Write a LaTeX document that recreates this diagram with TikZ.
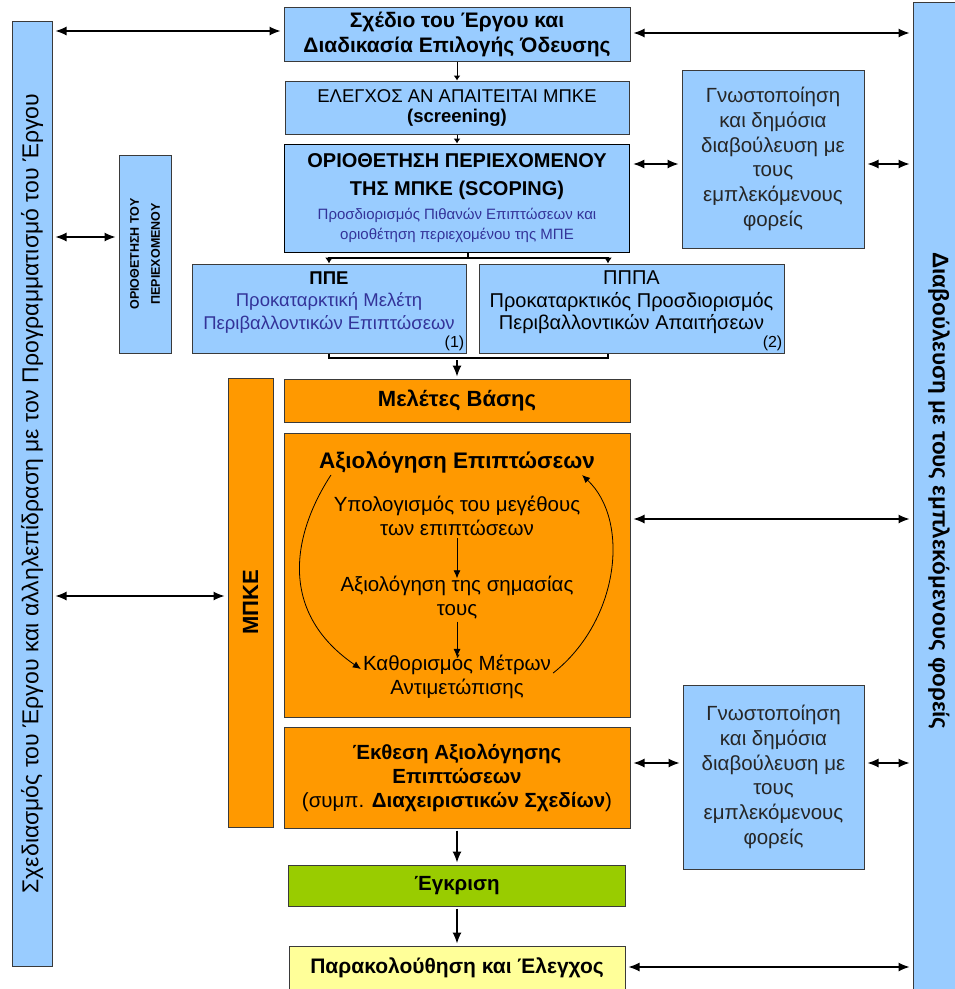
\documentclass[tikz,border=0pt]{standalone}
\usepackage{fontspec}
\setmainfont{Liberation Sans}
\usetikzlibrary{arrows.meta,positioning}

\definecolor{skyfill}{HTML}{99CCFF}
\definecolor{orangefill}{HTML}{FF9900}
\definecolor{greenfill}{HTML}{99CC00}
\definecolor{yellowfill}{HTML}{FFFF99}
\definecolor{navytext}{HTML}{333399}
\definecolor{edgegray}{HTML}{3A3A3A}

\begin{document}
\begin{tikzpicture}[x=1pt, y=-1pt, >={Latex[length=11pt,width=9pt]}]
    \tikzset{box/.style= {draw=edgegray, line width=1pt
    , inner sep=0pt
    , align=center
      },
    skybox/.style={box, fill=skyfill},
    orangebox/.style={box, fill=orangefill},
    link/.style={draw, line width=1.2pt, <->, shorten <=3pt, shorten >=3pt},
    flow/.style={draw, line width=1.2pt, ->, shorten <=2pt, shorten >=2pt},
    inner/.style={draw, line width=0.8pt, -{Latex[length=8pt,width=7pt]}}
    }
\useasboundingbox (0,0) rectangle (955,989);

% side bars
\node [skybox, minimum width=40pt, minimum height=945pt] (design) at (32,493.5) {};
\node [rotate=90, font=\fontsize{23}{26}\selectfont] (designtext) at (design) {Σχεδιασμός του Έργου και αλληλεπίδραση με τον Προγραμματισμό του Έργου};
\node [skybox, minimum width=46pt, minimum height=994pt] (consult) at (936,499) {};
\node [rotate=-90, font=\fontsize{22.5}{26}\selectfont\bfseries] (consulttext) at (939,491) {Διαβούλευση με τους εμπλεκόμενους φορείς};

% main column
\node [skybox, minimum width=346pt, minimum height=54pt, font=\fontsize{21}{25}\selectfont\bfseries] (plan) at (457,34) {Σχέδιο του Έργου και\\Διαδικασία Επιλογής Όδευσης};
\node [skybox, below=19pt of plan, minimum width=344pt, minimum height=53pt, font=\fontsize{18.5}{20}\selectfont] (screen) {ΕΛΕΓΧΟΣ ΑΝ ΑΠΑΙΤΕΙΤΑΙ ΜΠΚΕ\\\textbf{(screening)}};
\node [skybox, below=9pt of screen, minimum width=345pt, minimum height=108pt, line width=1.6pt, draw=black, font=\fontsize{20}{28}\selectfont] (scoping) {\textbf{ΟΡΙΟΘΕΤΗΣΗ ΠΕΡΙΕΧΟΜΕΝΟΥ}\\\textbf{ΤΗΣ ΜΠΚΕ (SCOPING)}\\[-4pt]\textcolor{navytext}{\fontsize{15}{20}\selectfont Προσδιορισμός Πιθανών Επιπτώσεων και}\\[-8pt]\textcolor{navytext}{\fontsize{15}{20}\selectfont οριοθέτηση περιεχομένου της ΜΠΕ}};

\node [skybox, minimum width=274pt, minimum height=89pt] (ppe) at (329,308.5) {};
\node [align=center, inner sep=0pt, font=\fontsize{18.5}{22.5}\selectfont] (ppetext) at ([yshift=6pt]ppe.center) {\textbf{ΠΠΕ}\\\textcolor{navytext}{Προκαταρκτική Μελέτη}\\\textcolor{navytext}{Περιβαλλοντικών Επιπτώσεων}};
\node [anchor=south east, inner sep=2pt, font=\fontsize{16}{18}\selectfont] (ppenote) at (ppe.south east) {(1)};
\node [skybox, right=12pt of ppe, minimum width=305pt, minimum height=89pt] (pppa) {};
\node [align=center, inner sep=0pt, font=\fontsize{20}{22.5}\selectfont] (pppatext) at ([yshift=6pt]pppa.center) {ΠΠΠΑ\\Προκαταρκτικός Προσδιορισμός\\Περιβαλλοντικών Απαιτήσεων};
\node [anchor=south east, inner sep=2pt, font=\fontsize{16}{18}\selectfont] (pppanote) at (pppa.south east) {(2)};

\node [orangebox, minimum width=346pt, minimum height=43pt, font=\fontsize{22}{26}\selectfont\bfseries] (basis) at (457,400.5) {Μελέτες Βάσης};
\node [orangebox, below=10pt of basis, minimum width=346pt, minimum height=284pt] (assess) {};
\node [orangebox, below=9pt of assess, minimum width=346pt, minimum height=101pt, font=\fontsize{20.5}{24}\selectfont] (report) {\textbf{Έκθεση Αξιολόγησης}\\\textbf{Επιπτώσεων}\\(συμπ. \textbf{Διαχειριστικών Σχεδίων})};
\node [box, fill=greenfill, below=36pt of report, minimum width=337pt, minimum height=41pt, font=\fontsize{20.5}{24}\selectfont\bfseries] (approve) {Έγκριση};
\node [box, fill=yellowfill, below=39pt of approve, minimum width=336pt, minimum height=44pt, font=\fontsize{21}{24}\selectfont\bfseries] (monitor) {Παρακολούθηση και Έλεγχος};

% inside the assessment box
\node [font=\fontsize{22.5}{26}\selectfont\bfseries, inner sep=2pt] (aim) at (457,462) {Αξιολόγηση Επιπτώσεων};
\node [font=\fontsize{20.5}{24}\selectfont, align=center, inner sep=2pt] (size) at (457,516) {Υπολογισμός του μεγέθους\\των επιπτώσεων};
\node [font=\fontsize{20.5}{24}\selectfont, align=center, inner sep=2pt] (weigh) at (457,598) {Αξιολόγηση της σημασίας\\τους};
\node [font=\fontsize{20.5}{24}\selectfont, align=center, inner sep=2pt] (measures) at (457,677) {Καθορισμός Μέτρων\\Αντιμετώπισης};

% side boxes
\node [skybox, minimum width=182pt, minimum height=178pt, font=\fontsize{20.5}{24.7}\selectfont, text=black!85] (notifA) at (773,159) {Γνωστοποίηση\\και δημόσια\\διαβούλευση με\\τους\\εμπλεκόμενους\\φορείς};
\node [skybox, minimum width=181pt, minimum height=184pt, font=\fontsize{20.5}{24.7}\selectfont, text=black!85] (notifB) at (773.5,777) {Γνωστοποίηση\\και δημόσια\\διαβούλευση με\\τους\\εμπλεκόμενους\\φορείς};
\node [skybox, minimum width=52pt, minimum height=198pt] (limits) at (145,254) {};
\node [rotate=90, align=center, font=\fontsize{12.5}{21}\selectfont\bfseries] (limitstext) at (limits) {ΟΡΙΟΘΕΤΗΣΗ ΤΟΥ\\ΠΕΡΙΕΧΟΜΕΝΟΥ};
\node [orangebox, minimum width=45pt, minimum height=449pt] (mpke) at (250.5,602.5) {};
\node [rotate=90, font=\fontsize{22}{26}\selectfont\bfseries] (mpketext) at (mpke) {ΜΠΚΕ};

% connectors
\coordinate (fork) at (468,258);
\coordinate (join) at (457,358);

 \path[draw, line width=1pt, -{Latex[length=5pt,width=7pt]}]
  (plan.south) -- (plan.south |- screen.north);
 \path[draw, line width=1pt, -{Latex[length=5pt,width=7pt]}]
  (screen.south) -- (screen.south |- scoping.north);
 \path[draw, line width=1.2pt]
  (scoping.south -| fork) -- (fork);
 \path[draw, line width=1.2pt, -{Latex[length=6pt,width=8pt]}]
  (fork) -| (ppe.north);
 \path[draw, line width=1.2pt, -{Latex[length=6pt,width=8pt]}]
  (fork) -| (pppa.north -| 608,0);
 \path[draw, line width=1.2pt]
  (ppe.south) |- (join) -| (pppa.south -| 608,0);
 \path[flow] (join) -- (basis.north);
 \path[flow] (report.south) -- (report.south |- approve.north);
 \path[flow] (approve.south) -- (approve.south |- monitor.north);

 \path[inner] (size.south) -- ([yshift=-4pt]weigh.north);
 \path[inner] (weigh.south) -- ([yshift=-4pt]measures.north);
 \path[inner] ([xshift=14pt]aim.south west) .. controls (295,530) and (275,610) .. ([yshift=8pt]measures.west);
 \path[inner] ([yshift=4pt]measures.east) .. controls (620,620) and (630,520) .. ([xshift=-15pt]aim.south east);

 \path[link] (design.east |- 0,31) -- (plan.west |- 0,31);
 \path[link] (design.east |- 0,237) -- (limits.west |- 0,237);
 \path[link] (design.east |- 0,596) -- (mpke.west |- 0,596);
 \path[link] (plan.east |- 0,33) -- (consult.west |- 0,33);
 \path[link] (scoping.east |- 0,164) -- (notifA.west |- 0,164);
 \path[link] (notifA.east |- 0,164) -- (consult.west |- 0,164);
 \path[link] (assess.east |- 0,519) -- (consult.west |- 0,519);
 \path[link] (report.east |- 0,763) -- (notifB.west |- 0,763);
 \path[link] (notifB.east |- 0,763) -- (consult.west |- 0,763);
 \path[link] (monitor.east |- 0,967) -- (consult.west |- 0,967);
\end{tikzpicture}
\end{document}
